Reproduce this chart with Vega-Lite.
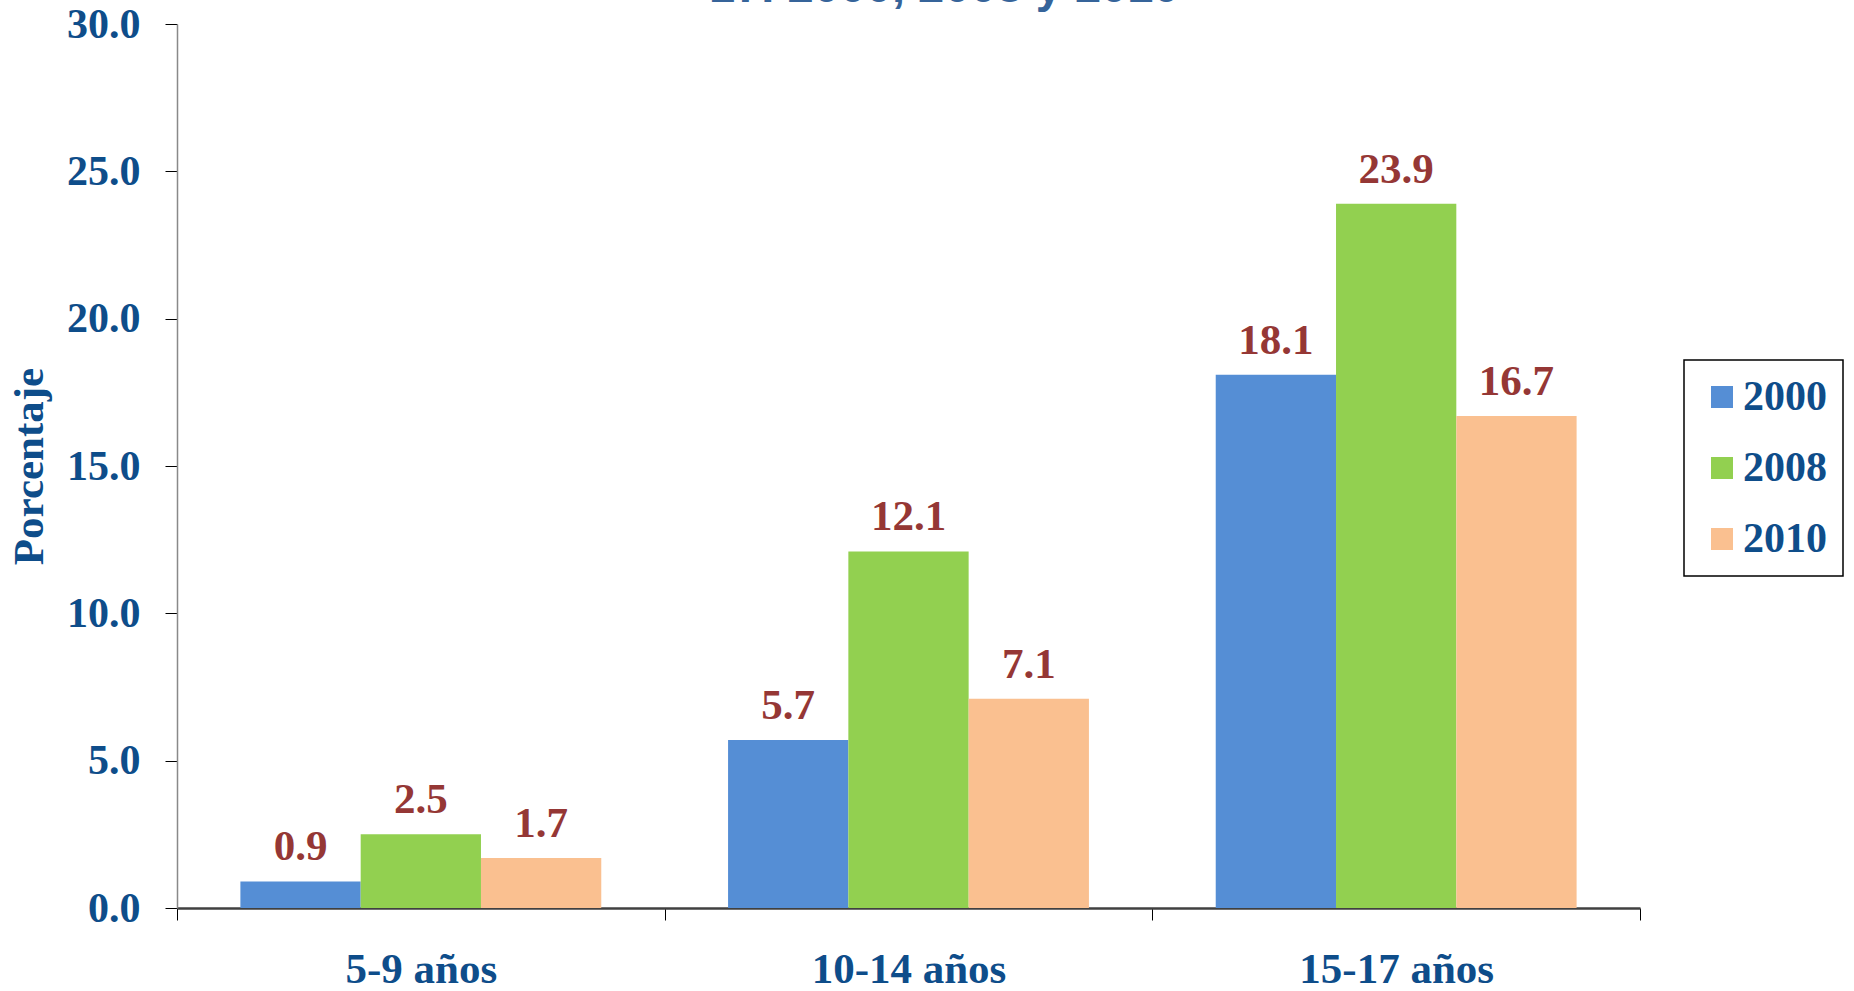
{
  "$schema": "https://vega.github.io/schema/vega-lite/v6.json",
  "autosize": {"type": "none"},
  "width": 1463,
  "height": 884,
  "padding": {"left": 177, "top": 24, "right": 214, "bottom": 83},
  "background": "white",
  "view": {"stroke": null},
  "title": {
    "text": "17. 2000, 2008 y 2010",
    "anchor": "start",
    "frame": "group",
    "dx": 532,
    "offset": -9,
    "font": "Liberation Sans",
    "fontSize": 47,
    "fontWeight": "bold",
    "color": "#36649A"
  },
  "data": {
    "values": [
      {"edad": "5-9 años", "anio": "2000", "valor": 0.9},
      {"edad": "5-9 años", "anio": "2008", "valor": 2.5},
      {"edad": "5-9 años", "anio": "2010", "valor": 1.7},
      {"edad": "10-14 años", "anio": "2000", "valor": 5.7},
      {"edad": "10-14 años", "anio": "2008", "valor": 12.1},
      {"edad": "10-14 años", "anio": "2010", "valor": 7.1},
      {"edad": "15-17 años", "anio": "2000", "valor": 18.1},
      {"edad": "15-17 años", "anio": "2008", "valor": 23.9},
      {"edad": "15-17 años", "anio": "2010", "valor": 16.7}
    ]
  },
  "encoding": {
    "x": {
      "field": "edad",
      "type": "nominal",
      "sort": ["5-9 años", "10-14 años", "15-17 años"],
      "scale": {"paddingInner": 0, "paddingOuter": 0},
      "axis": {
        "title": null,
        "labelAngle": 0,
        "labelLimit": 0,
        "tickBand": "extent",
        "tickSize": 12,
        "tickColor": "#000000",
        "tickWidth": 1,
        "domainColor": "#404040",
        "domainWidth": 2.5,
        "labelFont": "Liberation Serif",
        "labelFontWeight": "bold",
        "labelFontSize": 43,
        "labelColor": "#0E4D8A",
        "labelPadding": 28,
        "labelBaseline": "top"
      }
    },
    "xOffset": {
      "field": "anio",
      "type": "nominal",
      "scale": {"paddingInner": 0, "paddingOuter": 0.527}
    },
    "y": {
      "field": "valor",
      "type": "quantitative",
      "scale": {"domain": [0, 30], "nice": false},
      "axis": {
        "title": "Porcentaje",
        "titleFont": "Liberation Serif",
        "titleFontWeight": "bold",
        "titleFontSize": 43,
        "titleColor": "#0E4D8A",
        "titlePadding": 15,
        "values": [0, 5, 10, 15, 20, 25, 30],
        "format": ".1f",
        "grid": false,
        "tickSize": 12,
        "tickColor": "#000000",
        "tickWidth": 1,
        "domainColor": "#898989",
        "domainWidth": 1.5,
        "labelFont": "Liberation Serif",
        "labelFontWeight": "bold",
        "labelFontSize": 42,
        "labelColor": "#0E4D8A",
        "labelPadding": 25
      }
    }
  },
  "layer": [
    {
      "mark": {"type": "bar"},
      "encoding": {
        "color": {
          "field": "anio",
          "type": "nominal",
          "scale": {"domain": ["2000", "2008", "2010"], "range": ["#558ED5", "#92D050", "#FAC090"]},
          "legend": {
            "title": null,
            "orient": "none",
            "legendX": 1507,
            "legendY": 336,
            "direction": "vertical",
            "symbolType": "square",
            "symbolSize": 484,
            "symbolStrokeWidth": 0,
            "symbolOffset": 1,
            "labelFont": "Liberation Serif",
            "labelFontWeight": "bold",
            "labelFontSize": 42,
            "labelColor": "#0E4D8A",
            "labelOffset": 0,
            "rowPadding": 29,
            "padding": 16,
            "strokeColor": "#000000",
            "fillColor": "white",
            "encode": {"legend": {"update": {"strokeWidth": {"value": 1.5}}}}
          }
        }
      }
    },
    {
      "mark": {
        "type": "text",
        "baseline": "alphabetic",
        "dy": -21,
        "font": "Liberation Serif",
        "fontWeight": "bold",
        "fontSize": 43,
        "color": "#953735"
      },
      "encoding": {
        "text": {"field": "valor", "type": "quantitative", "format": ".1f"}
      }
    }
  ]
}
